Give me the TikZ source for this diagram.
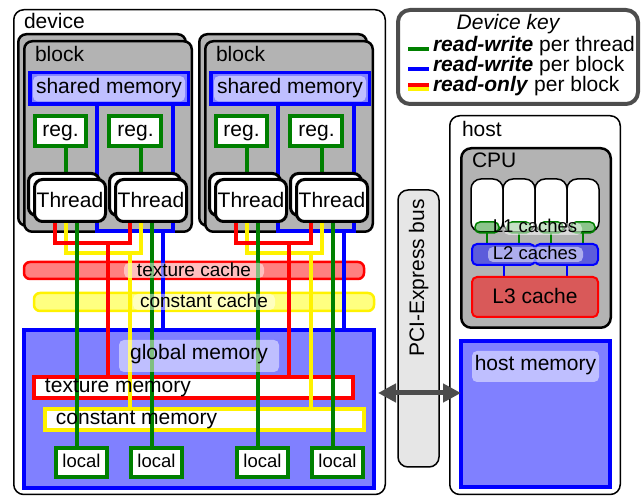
\documentclass[tikz,border=0pt]{standalone}
\usepackage{fontspec}
\setmainfont{Liberation Sans}
\usetikzlibrary{arrows.meta,fit}
\definecolor{gblock}{HTML}{B3B3B3}
\definecolor{dgreen}{HTML}{008000}
\definecolor{memblue}{HTML}{8080FF}
\definecolor{texfill}{HTML}{FF8080}
\definecolor{confill}{HTML}{FFFF80}
\definecolor{keygray}{HTML}{4D4D4D}
\definecolor{ltwofill}{HTML}{5C5CDB}
\definecolor{lthreefill}{HTML}{D95959}
\definecolor{pcifill}{HTML}{E6E6E6}
\pgfdeclarelayer{bg}
\pgfdeclarelayer{ln}
\pgfsetlayers{bg,ln,main}
\begin{document}
\begin{tikzpicture}[x=1pt,y=-1pt,
  every node/.style={inner sep=0pt, outer sep=0pt},
  F/.style={font=\fontsize{21}{25}\selectfont},
  Fs/.style={font=\fontsize{19}{23}\selectfont},
  Fx/.style={font=\fontsize{18.5}{22}\selectfont},
  region/.style={fit={#1}, inner sep=0pt},
  frame/.style={draw=black, line width=1.5pt, rounded corners=10pt, fill=white},
  blockbox/.style={draw=black, line width=2.5pt, fill=gblock, rounded corners=8pt},
  thr/.style={draw=black, line width=3pt, fill=white, rounded corners=8pt},
  regbox/.style={draw=dgreen, line width=4pt, fill=white},
  smbox/.style={draw=blue, line width=3.5pt, fill=memblue},
  glass/.style={fill=white, fill opacity=0.5, rounded corners=5pt},
  bline/.style={draw=blue, line width=3.8pt},
  rline/.style={draw=red, line width=3.8pt},
  yline/.style={draw=yellow, line width=3.8pt},
  gline/.style={draw=dgreen, line width=3.8pt}
]
\useasboundingbox (0,0) rectangle (641,497);

% ---------- frames ----------
\begin{pgfonlayer}{bg}
\node[frame, region={(13.75,9.75) (385.25,494.5)}] (dev) {};
\node[frame, region={(449.75,115.75) (620.25,494.5)}] (host) {};
\node[region={(398,10) (638,104)}, draw=keygray, line width=4pt, rounded corners=12pt, fill=white] (key) {};
\node[region={(398,190) (439,467)}, draw=black, line width=1.5pt, rounded corners=10pt, fill=pcifill] (pci) {};
% caches and device memories
\node[region={(24,262) (364,279)}, draw=red, line width=2.5pt, fill=texfill, rounded corners=6pt] (tc) {};
\node[region={(34,293) (374,311)}, draw=yellow, line width=2.5pt, fill=confill, rounded corners=6pt] (cc) {};
\node[region={(24,330) (374,488)}, draw=blue, line width=4pt, fill=memblue] (gm) {};
\node[region={(34,377) (353,398)}, draw=red, line width=4pt, fill=white] (tm) {};
\node[region={(45,409) (364,430)}, draw=yellow, line width=4pt, fill=white] (cm) {};
% CPU
\node[region={(461.25,148.25) (610.75,327.75)}, blockbox, rounded corners=10pt] (cpu) {};
\foreach \i in {0,1,2,3}{
  \node[region={(471+32*\i,179) (503+32*\i,232)}, draw=black, line width=1.5pt, fill=white, rounded corners=10pt] (core\i) {};
}
\end{pgfonlayer}

\node[F, anchor=base west] (devl) at (24,29) {device};
\node[F, anchor=base west] (hostl) at (462,137) {host};
\node[F, anchor=base west] (cpul) at (472,168) {CPU};

% ---------- key ----------
\node[F, anchor=base] (keyt) at (508,30) {\itshape Device key};
\node[F, anchor=base west] (k1) at (433,52) {\textbf{\textit{read-write}} per thread};
\node[F, anchor=base west] (k2) at (433,72) {\textbf{\textit{read-write}} per block};
\node[F, anchor=base west] (k3) at (433,92) {\textbf{\textit{read-only}} per block};
\draw[dgreen, line width=4pt] (408,48.7) -- (429,48.7);
\draw[blue, line width=4pt] (408,68.7) -- (429,68.7);
\draw[red, line width=4pt] (408,85.5) -- (429,85.5);
\draw[yellow, line width=4pt] (408,89.5) -- (429,89.5);

% ---------- blocks ----------
\foreach \s/\n in {0/1,181/2}{
\begin{scope}[xshift=\s]
  \begin{pgfonlayer}{bg}
  \node[blockbox, region={(18.25,34.25) (185.75,225.75)}] (bb\n) {};
  \node[blockbox, region={(24.25,41.25) (191.75,231.75)}] (bf\n) {};
  \end{pgfonlayer}
  \node[F, anchor=base west] (bl\n) at (35,62) {block};
  \node[smbox, region={(29.75,72.75) (188.25,104.25)}] (sm\n) {};
  \node[glass, region={(33,76) (185,101.5)}] (smg\n) {};
  \node[F, anchor=base] (smt\n) at (109,94) {shared memory};
  \node[regbox, region={(35,116) (86,146)}] (ra\n) {};
  \node[F, anchor=base] (rat\n) at (60.5,137) {reg.};
  \node[regbox, region={(109,116) (161,146)}] (rb\n) {};
  \node[F, anchor=base] (rbt\n) at (135.5,137) {reg.};
  \node[thr, region={(28.5,173.5) (99.5,215.5)}] (tba\n) {};
  \node[thr, region={(34.5,179.5) (105.5,221.5)}] (tfa\n) {};
  \node[F, anchor=base] (tat\n) at (70,208) {Thread};
  \node[thr, region={(109.5,173.5) (180.5,215.5)}] (tbb\n) {};
  \node[thr, region={(115.5,179.5) (186.5,221.5)}] (tfb\n) {};
  \node[F, anchor=base] (tbt\n) at (151,208) {Thread};
  \node[regbox, region={(56,448) (107,477)}] (loa\n) {};
  \node[Fx, anchor=base] (loat\n) at (81.5,468) {local};
  \node[regbox, region={(131,448) (182,477)}] (lob\n) {};
  \node[Fx, anchor=base] (lobt\n) at (156.5,468) {local};
  \begin{pgfonlayer}{ln}
  \draw[bline] (sm\n.south -| 97,0) -- (97,231) -- (173,231) -- (sm\n.south -| 173,0);
  \draw[bline] (163,231) -- (gm.north -| 163,0);
  \draw[gline] (ra\n.south -| 66,0) -- (tba\n.north -| 66,0);
  \draw[gline] (rb\n.south -| 141,0) -- (tbb\n.north -| 141,0);
  \draw[yline] (tfa\n.south -| 66,0) -- (66,253) -- (141,253) -- (tfb\n.south -| 141,0);
  \draw[yline] (130,253) -- (cm.north -| 130,0);
  \draw[rline] (tfa\n.south -| 55,0) -- (55,243) -- (130,243) -- (tfb\n.south -| 130,0);
  \draw[rline] (108,243) -- (tm.north -| 108,0);
  \draw[gline] (tfa\n.south -| 77,0) -- (loa\n.north -| 77,0);
  \draw[gline] (tfb\n.south -| 152,0) -- (lob\n.north -| 152,0);
  \end{pgfonlayer}
\end{scope}
}

% ---------- device memory labels ----------
\node[glass, region={(124,263) (264,278)}] (tcg) {};
\node[Fs, anchor=base] (tct) at (194,277) {texture cache};
\node[glass, region={(133,294) (275,310)}] (ccg) {};
\node[Fs, anchor=base] (cct) at (204,308) {constant cache};
\node[glass, region={(119,340) (279,372)}] (gmg) {};
\node[F, anchor=base] (gmt) at (199,360) {global memory};
\node[F, anchor=base west] (tmt) at (45,393) {texture memory};
\node[F, anchor=base west] (cmt) at (56,425) {constant memory};

% ---------- CPU caches ----------
\foreach \i in {0,1,2,3}{
  \node[region={(475+32*\i,222) (499+32*\i,233)}, draw=dgreen, line width=1.5pt, fill=dgreen, fill opacity=0.45, draw opacity=1, rounded corners=5pt] (lone\i) {};
}
\node[region={(472,244) (535,265)}, draw=blue, line width=2pt, fill=ltwofill, rounded corners=5pt] (l2a) {};
\node[region={(535,244) (598,265)}, draw=blue, line width=2pt, fill=ltwofill, rounded corners=5pt] (l2b) {};
\node[region={(472,277) (598,317)}, draw=red, line width=2pt, fill=lthreefill, rounded corners=5pt] (l3) {};
\begin{pgfonlayer}{ln}
\foreach \i in {0,1,2,3}{
  \draw[dgreen, line width=1.5pt] (lone\i.south) -- (lone\i.south |- l2a.north);
}
\draw[blue, line width=1.5pt] (l2a.south -| 504,0) -- (l3.north -| 504,0);
\draw[blue, line width=1.5pt] (l2b.south -| 567,0) -- (l3.north -| 567,0);
\end{pgfonlayer}
\node[glass, region={(504,223) (582,235)}] (l1g) {};
\node[Fx, anchor=base] (l1t) at (535,233) {L1 caches};
\node[glass, region={(488,247) (583,262)}] (l2g) {};
\node[Fx, anchor=base] (l2t) at (535,260) {L2 caches};
\node[F, anchor=base] (l3t) at (535,304) {L3 cache};

% ---------- host memory ----------
\node[region={(461,341) (610,487)}, draw=blue, line width=4pt, fill=memblue] (hm) {};
\node[glass, region={(472,351) (599,382)}] (hmg) {};
\node[F, anchor=base] (hmt) at (535.5,371) {host memory};

% ---------- bus ----------
\node[F, rotate=90, anchor=base] (pcit) at (424,278) {PCI-Express bus};
\draw[keygray, line width=5pt, {Triangle[length=18pt,width=18pt]}-{Triangle[length=18pt,width=18pt]}] ([xshift=4pt]gm.east |- 0,393) -- (hm.west |- 0,393);
\end{tikzpicture}
\end{document}
